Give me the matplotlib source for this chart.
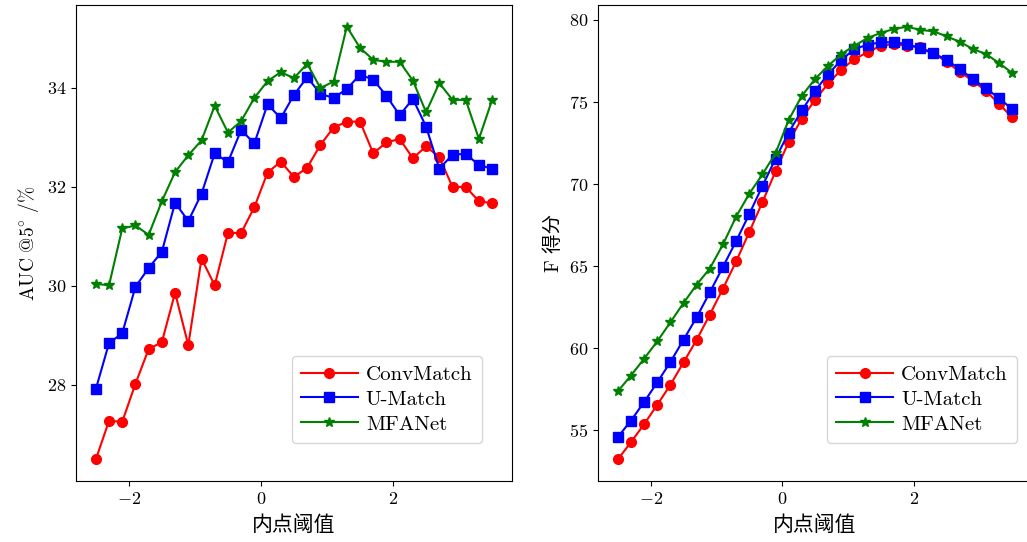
import matplotlib
matplotlib.use("Agg")
import numpy as np
import matplotlib.pyplot as plt

# inlier threshold values (x axis)
thresholds = [-2.5, -2.3, -2.1, -1.9, -1.7, -1.5, -1.3, -1.1, -0.9, -0.7, -0.5,
              -0.3, -0.1, 0.1, 0.3, 0.5, 0.7, 0.9, 1.1, 1.3, 1.5, 1.7, 1.9,
              2.1, 2.3, 2.5, 2.7, 2.9, 3.1, 3.3, 3.5]

# AUC@5 (%)
auc_convmatch = [26.49, 27.27, 27.25, 28.02, 28.72, 28.86, 29.86, 28.80, 30.55, 30.01, 31.07,
                 31.07, 31.59, 32.29, 32.51, 32.20, 32.39, 32.85, 33.20, 33.32, 33.32,
                 32.68, 32.90, 32.97, 32.58, 32.82, 32.60, 32.00, 32.00, 31.71, 31.67]
auc_umatch = [27.91, 28.84, 29.04, 29.98, 30.36, 30.69, 31.68, 31.31, 31.86, 32.68, 32.50,
              33.15, 32.88, 33.67, 33.39, 33.86, 34.22, 33.88, 33.80, 33.98, 34.27,
              34.17, 33.84, 33.45, 33.78, 33.22, 32.37, 32.65, 32.67, 32.44, 32.37]
auc_mfanet = [30.04, 30.01, 31.16, 31.22, 31.03, 31.71, 32.30, 32.64, 32.94, 33.64, 33.10,
              33.33, 33.80, 34.14, 34.32, 34.20, 34.49, 34.00, 34.13, 35.24, 34.81,
              34.57, 34.53, 34.53, 34.15, 33.51, 34.10, 33.76, 33.76, 32.97, 33.76]

# F score
f_convmatch = [53.22, 54.26, 55.36, 56.54, 57.76, 59.13, 60.51, 62.04, 63.63, 65.28, 67.07,
               68.90, 70.78, 72.57, 73.99, 75.13, 76.13, 76.97, 77.62, 78.03, 78.43,
               78.53, 78.43, 78.33, 77.98, 77.45, 76.84, 76.29, 75.68, 74.87, 74.06]
f_umatch = [54.57, 55.58, 56.71, 57.91, 59.15, 60.51, 61.88, 63.40, 64.95, 66.52, 68.17,
            69.88, 71.55, 73.14, 74.50, 75.68, 76.70, 77.56, 78.23, 78.49, 78.64,
            78.64, 78.53, 78.27, 77.96, 77.58, 77.01, 76.40, 75.83, 75.22, 74.56]
f_mfanet = [57.36, 58.33, 59.35, 60.41, 61.57, 62.75, 63.87, 64.85, 66.32, 68.01, 69.41,
            70.59, 71.88, 73.91, 75.38, 76.40, 77.21, 77.92, 78.43, 78.90, 79.21,
            79.45, 79.59, 79.39, 79.31, 79.00, 78.67, 78.23, 77.92, 77.37, 76.76]

methods = ["ConvMatch", "U-Match", "MFANet"]

plt.rcParams.update({
    "font.family": ["cmr10", "Noto Sans CJK SC"],
    "mathtext.fontset": "cm",
    "axes.formatter.use_mathtext": True,
    "axes.unicode_minus": True,
    "font.size": 13,
})

styles = [dict(color="red", marker="o", markersize=7),
          dict(color="blue", marker="s", markersize=7),
          dict(color="green", marker="*", markersize=7)]

fig = plt.figure(figsize=(10.27, 5.42), dpi=100)
ax1 = fig.add_axes([0.0740, 0.1125, 0.4245, 0.8782])
ax2 = fig.add_axes([0.5823, 0.1125, 0.4226, 0.8782])

x = np.array(thresholds)
for name, ys, st in zip(methods, [auc_convmatch, auc_umatch, auc_mfanet], styles):
    ax1.plot(x, ys, label=name, lw=1.5, **st)
for name, ys, st in zip(methods, [f_convmatch, f_umatch, f_mfanet], styles):
    ax2.plot(x, ys, label=name, lw=1.5, **st)

ax1.set_ylabel(r"$\mathrm{AUC\ @5^{\circ}\ /\%}$", fontsize=14)
ax2.set_ylabel("F 得分", fontsize=14)
for ax in (ax1, ax2):
    ax.set_xlabel("内点阈值", fontsize=15, labelpad=6)
    ax.set_xticks([-2, 0, 2])
    ax.tick_params(labelsize=13)

ax1.set_yticks([28, 30, 32, 34])
ax2.set_yticks([55, 60, 65, 70, 75, 80])

leg_kw = dict(loc="lower right", borderaxespad=0, fontsize=15, labelspacing=0.3,
              handlelength=2.7, handletextpad=0.4, borderpad=0.45)
ax1.legend(bbox_to_anchor=(0.931, 0.08), **leg_kw)
ax2.legend(bbox_to_anchor=(0.9654, 0.08), **leg_kw)

fig.savefig("out.png", dpi=100)
